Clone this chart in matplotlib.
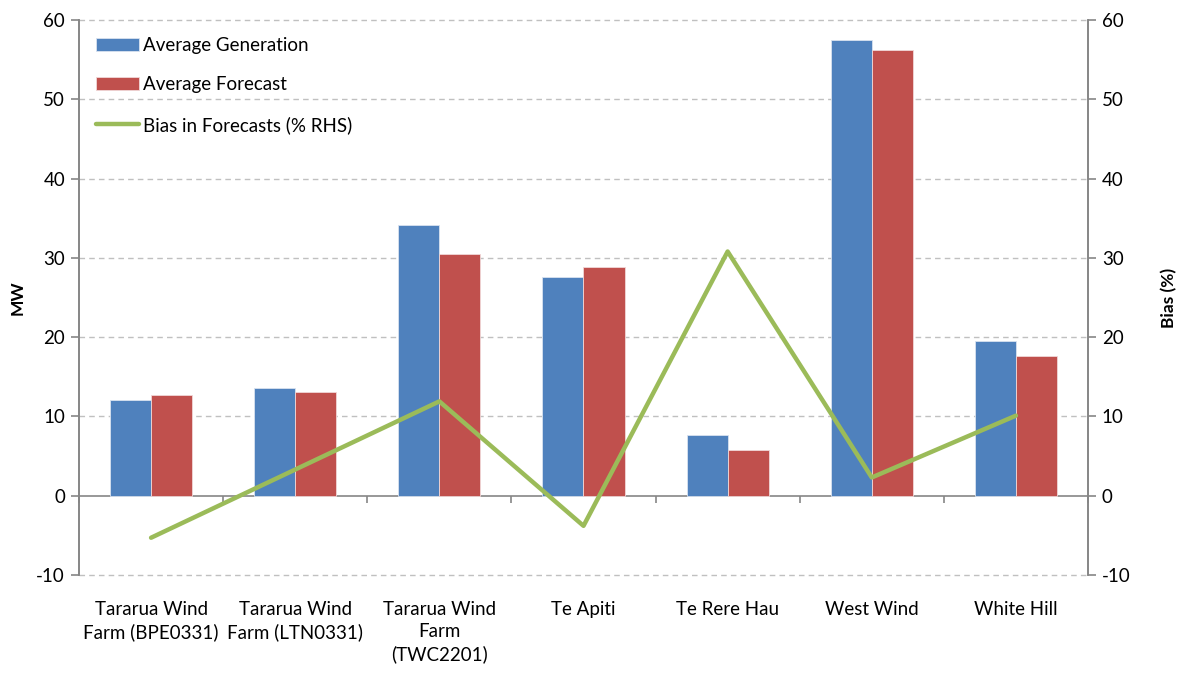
import numpy as np
import matplotlib
matplotlib.use('Agg')
import matplotlib.pyplot as plt
from matplotlib.ticker import MultipleLocator, FixedLocator

plt.rcParams['font.family'] = ['Lato', 'DejaVu Sans']
plt.rcParams['axes.unicode_minus'] = False

# wind farms
farms = ['Tararua Wind\nFarm (BPE0331)', 'Tararua Wind\nFarm (LTN0331)',
         'Tararua Wind\nFarm\n(TWC2201)', 'Te Apiti', 'Te Rere Hau',
         'West Wind', 'White Hill']
avg_gen = [12.1, 13.6, 34.2, 27.6, 7.6, 57.5, 19.5]
avg_fc = [12.7, 13.1, 30.5, 28.9, 5.8, 56.2, 17.6]
bias = [-5.3, 3.3, 11.9, -3.8, 30.8, 2.3, 10.1]

blue = '#4F81BD'
red = '#C0504D'
green = '#9BBB59'
axcol = '#868686'
fs = 13.5

fig = plt.figure(figsize=(11.86, 6.75), dpi=100)
ax = fig.add_axes([79/1186, 1-575/675, (1088-79)/1186, (575-20)/675])
ax2 = ax.twinx()

x = np.arange(len(farms))
w = 0.285
ax.bar(x - w/2, avg_gen, w, color=blue, edgecolor='#d9e2f0', linewidth=0.6, label='Average Generation', zorder=3)
ax.bar(x + w/2, avg_fc, w, color=red, edgecolor='#f0d8d8', linewidth=0.6, label='Average Forecast', zorder=3)
ax2.plot(x, bias, color=green, lw=3.2, solid_capstyle='round', label='Bias in Forecasts (% RHS)')

for a in (ax, ax2):
    a.set_ylim(-10, 60)
    a.yaxis.set_major_locator(MultipleLocator(10))
    a.set_xlim(-0.5, len(farms) - 0.5)
    for s in a.spines.values():
        s.set_color(axcol)
        s.set_linewidth(1.2)
    a.spines['top'].set_visible(False)

ax.spines['bottom'].set_position(('data', 0))
ax2.spines['bottom'].set_visible(False)

# grid
for yv in range(-10, 61, 10):
    if yv != 0:
        ax.axhline(yv, color='#c0c0c0', lw=1, ls=(0, (4, 3)), zorder=1, clip_on=False)

ax.set_xticks(x)
ax.set_xticklabels(farms, fontsize=fs, linespacing=1.35)
ax.xaxis.set_minor_locator(FixedLocator(np.arange(len(farms) + 1) - 0.5))
ax.tick_params(axis='x', which='major', length=0, pad=76)
ax.tick_params(axis='x', which='minor', length=5, color=axcol, width=1.2)
ax.tick_params(axis='y', labelsize=fs, length=6, color=axcol, width=1.2, pad=4)
ax2.tick_params(axis='y', labelsize=fs, length=6, color=axcol, width=1.2, pad=4)

ax.set_ylabel('MW', fontsize=fs - 1, fontweight='bold', labelpad=8)
ax2.set_ylabel('Bias (%)', fontsize=fs - 1, fontweight='bold', rotation=90, labelpad=22)

h1, l1 = ax.get_legend_handles_labels()
h2, l2 = ax2.get_legend_handles_labels()
leg = ax2.legend(h1 + h2, l1 + l2, loc='upper left', bbox_to_anchor=(0.0, 1.0),
                 frameon=False, fontsize=fs, labelspacing=1.2, handlelength=2.3,
                 handletextpad=0.2, handleheight=0.7)

fig.savefig('out.png', dpi=100)
